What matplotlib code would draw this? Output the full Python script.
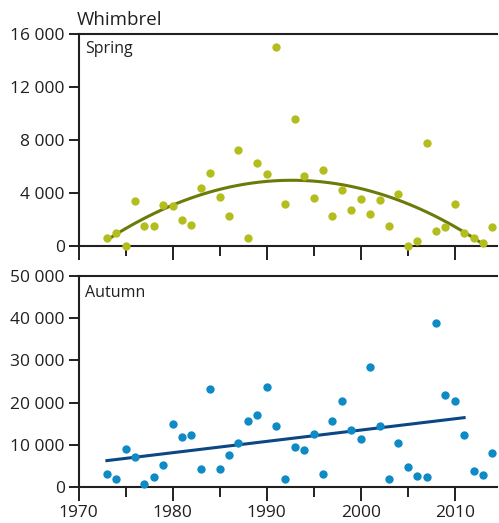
import matplotlib
matplotlib.use("Agg")
import matplotlib.pyplot as plt
import numpy as np
from matplotlib.ticker import FuncFormatter, MultipleLocator

plt.rcParams['font.family'] = ['Open Sans', 'DejaVu Sans']

# data
years = np.arange(1973, 2015)

spring = [600, 1000, 0, 3400, 1500, 1500, 3100, 3000, 1950, 1600,
          4350, 5500, 3700, 2300, 7250, 600, 6300, 5450, 15050, 3150,
          9600, 5300, 3600, 5750, 2300, 4250, 2700, 3550, 2400, 3500,
          1500, 3950, 0, 350, 7750, 1150, 1400, 3200, 950, 600,
          200, 1400]

autumn = [3100, 1900, 9000, 7100, 800, 2400, 5300, 15000, 11800, 12400,
          4300, 23200, 4300, 7600, 10500, 15700, 17000, 23700, 14500, 2000,
          9600, 8750, 12500, 3100, 15600, 20500, 13600, 11300, 28500, 14400,
          1900, 10500, 4700, 2700, 2500, 38900, 21700, 20500, 12400, 3900,
          3000, 8100]

# trend lines (start, middle, end)
spring_trend_years = [1973, 1993, 2013]
spring_trend = [450, 4960, 150]
autumn_trend_years = [1973, 2011]
autumn_trend = [6300, 16450]

spring_col = '#b3be1e'
spring_fit = '#6b7a08'
autumn_col = '#0e8ac6'
autumn_fit = '#0b4785'
axcol = '#231f20'


def thousands(v, pos):
    return '{:,}'.format(int(v)).replace(',', ' ')


fig = plt.figure(figsize=(4.99, 5.23), dpi=100)
ax1 = fig.add_axes([0.1577, 0.5296, 0.8383, 0.4054])
ax2 = fig.add_axes([0.1577, 0.0683, 0.8383, 0.4046])

# spring: quadratic trend through the three read points
c2 = np.polyfit(spring_trend_years, spring_trend, 2)
xs = np.linspace(spring_trend_years[0], spring_trend_years[-1], 200)
ax1.plot(xs, np.polyval(c2, xs), color=spring_fit, lw=2.2, zorder=2)
ax1.scatter(years, spring, s=36, color=spring_col, zorder=3, clip_on=False,
            linewidths=0)
ax1.set_ylim(0, 16000)
ax1.yaxis.set_major_locator(MultipleLocator(4000))
ax1.text(0.016, 0.965, 'Spring', transform=ax1.transAxes, va='top',
         ha='left', fontsize=11.5, color=axcol)

# autumn: linear trend
ax2.plot(autumn_trend_years, autumn_trend, color=autumn_fit, lw=2.2, zorder=2)
ax2.scatter(years, autumn, s=36, color=autumn_col, zorder=3, clip_on=False,
            linewidths=0)
ax2.set_ylim(0, 50000)
ax2.yaxis.set_major_locator(MultipleLocator(10000))
ax2.text(0.016, 0.958, 'Autumn', transform=ax2.transAxes, va='top',
         ha='left', fontsize=11.5, color=axcol)

for ax in (ax1, ax2):
    ax.set_xlim(1970, 2014.5)
    ax.xaxis.set_major_locator(MultipleLocator(10))
    ax.xaxis.set_minor_locator(MultipleLocator(5))
    ax.yaxis.set_major_formatter(FuncFormatter(thousands))
    ax.spines['right'].set_visible(False)
    for s in ('left', 'top', 'bottom'):
        ax.spines[s].set_linewidth(1.5)
        ax.spines[s].set_color(axcol)
    ax.tick_params(axis='both', which='major', direction='out', length=7,
                   width=1.4, color=axcol, labelsize=12.5, labelcolor=axcol,
                   pad=3)
    ax.tick_params(axis='x', which='major', length=10)
    ax.tick_params(axis='x', which='minor', length=7, width=1.4, color=axcol)
    ax.tick_params(axis='y', which='minor', left=False)

ax1.tick_params(axis='x', which='both', labelbottom=False)

fig.text(77 / 499, 1 - 25 / 523, 'Whimbrel', fontsize=13.5, color=axcol,
         va='baseline', ha='left')

fig.savefig('out.png', dpi=100)
